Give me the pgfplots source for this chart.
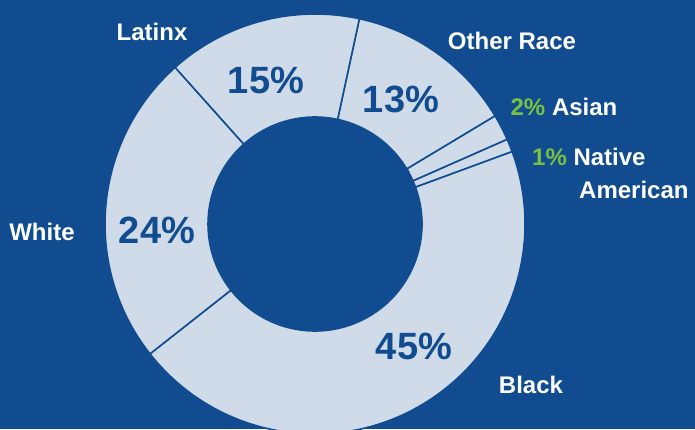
\documentclass[border=0pt]{standalone}
\usepackage{pgfplots}
\pgfplotsset{compat=1.18}
\usepackage{pgfplotstable}
\usepackage{fontspec}
\setmainfont{Liberation Sans}
\definecolor{bg}{HTML}{104C8F}
\definecolor{ring}{HTML}{CFDBE8}
\definecolor{grn}{HTML}{7AC143}
\pgfplotstableread{
label pct
Black 45
Native 1
Asian 2
Other 13
Latinx 15
White 24
}\racedata
\newcommand{\lab}{\fontsize{24bp}{28bp}\selectfont\bfseries}
\newcommand{\pctf}{\fontsize{38bp}{44bp}\selectfont\bfseries}
\begin{document}
\begin{tikzpicture}
\begin{axis}[
  x=1bp, y=1bp,
  xmin=-315, xmax=380, ymin=-205, ymax=224,
  hide axis, clip=true,
]
\fill[bg] (rel axis cs:0,0) rectangle (rel axis cs:1,1);
\pgfplotstablegetrowsof{\racedata}
\pgfmathtruncatemacro{\nrows}{\pgfplotsretval-1}
\xdef\start{218.2}
\pgfplotsforeachungrouped \i in {0,...,\nrows}{%
  \pgfplotstablegetelem{\i}{pct}\of\racedata
  \let\p=\pgfplotsretval
  \pgfmathsetmacro{\a}{\start}%
  \pgfmathsetmacro{\b}{\start+3.6*\p}%
  \pgfmathsetmacro{\xia}{107*cos(\a)}\pgfmathsetmacro{\yia}{107*sin(\a)}%
  \pgfmathsetmacro{\xoa}{210*cos(\a)}\pgfmathsetmacro{\yoa}{210*sin(\a)}%
  \pgfmathsetmacro{\xib}{107*cos(\b)}\pgfmathsetmacro{\yib}{107*sin(\b)}%
  \edef\cmd{\noexpand\filldraw[fill=ring, draw=bg, line width=1.6bp, line join=miter]
    (axis cs:\xia,\yia) -- (axis cs:\xoa,\yoa)
    arc[start angle=\a, end angle=\b, radius=210bp]
    -- (axis cs:\xib,\yib)
    arc[start angle=\b, end angle=\a, radius=107bp] -- cycle;}%
  \cmd
  \xdef\start{\b}%
}
% percentages
\node[anchor=base, inner sep=0, text=bg] at (axis cs:-49,131) {\pctf 15\%};
\node[anchor=base, inner sep=0, text=bg] at (axis cs:86,112) {\pctf 13\%};
\node[anchor=base, inner sep=0, text=bg] at (axis cs:-158,-19) {\pctf 24\%};
\node[anchor=base, inner sep=0, text=bg] at (axis cs:99,-135) {\pctf 45\%};
% category labels
\node[anchor=base, inner sep=0, text=white] at (axis cs:-163,183) {\lab Latinx};
\node[anchor=base, inner sep=0, text=white] at (axis cs:197,175) {\lab Other Race};
\node[anchor=base, inner sep=0, text=white] at (axis cs:249,109) {\lab \textcolor{grn}{2\%} Asian};
\node[anchor=base west, inner sep=0, text=white] at (axis cs:217,59) {\lab \textcolor{grn}{1\%} Native};
\node[anchor=base west, inner sep=0, text=white] at (axis cs:264,26) {\lab American};
\node[anchor=base, inner sep=0, text=white] at (axis cs:-273,-16) {\lab White};
\node[anchor=base, inner sep=0, text=white] at (axis cs:216,-169) {\lab Black};
\end{axis}
\end{tikzpicture}
\end{document}
